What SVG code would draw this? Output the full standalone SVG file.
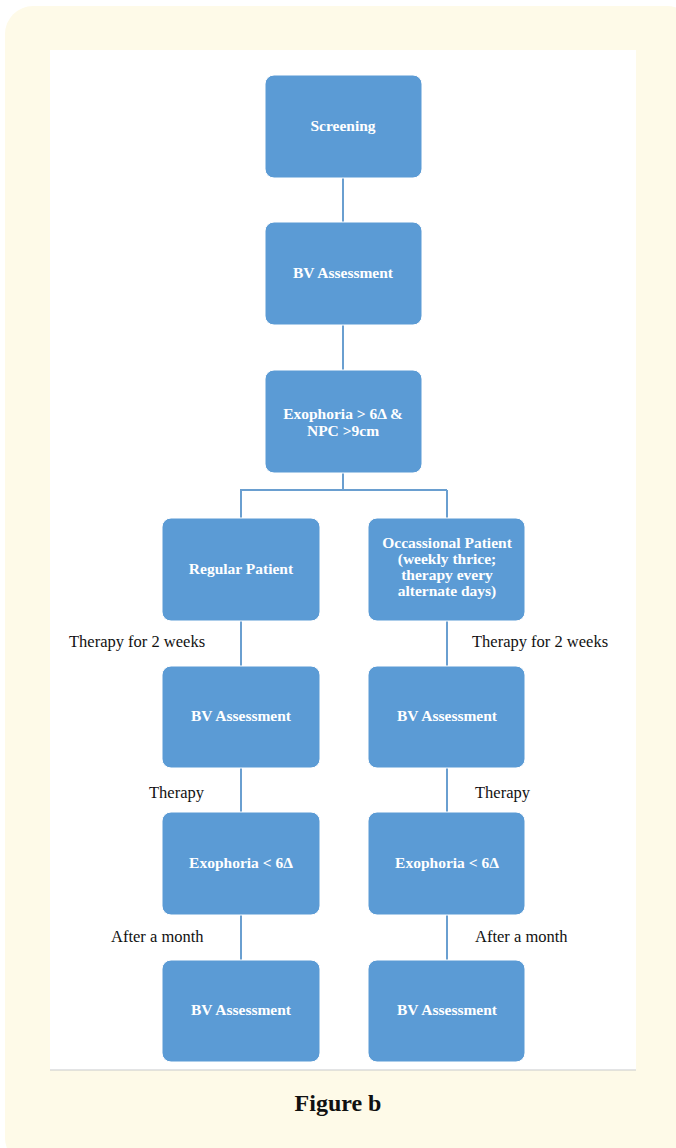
<svg xmlns="http://www.w3.org/2000/svg" width="676" height="1148" viewBox="0 0 676 1148">
<style>
.box{fill:#5B9BD5;stroke:#ffffff;stroke-width:1}
.bt{font-family:"Liberation Serif",serif;font-size:15.5px;font-weight:bold;fill:#ffffff;text-anchor:middle}
.lb{font-family:"Liberation Serif",serif;font-size:16.5px;fill:#111111}
.cn{stroke:#6A9FD0;stroke-width:2;fill:none}
</style>
<rect x="5" y="6" width="690" height="1160" rx="28" fill="#FEFAE8"/>
<rect x="50" y="50" width="586" height="1020" fill="#ffffff"/>
<line x1="50" y1="1070" x2="636" y2="1070" stroke="#C8CACC" stroke-width="1.2"/>
<g id="connectors">
<path class="cn" d="M343 178V222M343 325V370M343 473V490M240 490H447M241 490V518M447 490V518M241 621V666M447 621V666M241 768V812M447 768V812M241 915V960M447 915V960"/>
</g>
<g id="n1"><rect class="box" x="265" y="75" width="157" height="103" rx="9"/><text class="bt" x="343" y="131">Screening</text></g>
<g id="n2"><rect class="box" x="265" y="222" width="157" height="103" rx="9"/><text class="bt" x="343" y="278">BV Assessment</text></g>
<g id="n3"><rect class="box" x="265" y="370" width="157" height="103" rx="9"/><text class="bt" x="343" y="419">Exophoria &gt; 6Δ &amp;</text><text class="bt" x="343" y="436">NPC &gt;9cm</text></g>
<g id="n4"><rect class="box" x="162" y="518" width="158" height="103" rx="9"/><text class="bt" x="241" y="574">Regular Patient</text></g>
<g id="n5"><rect class="box" x="368" y="518" width="157" height="103" rx="9"/><text class="bt" x="447" y="548">Occassional Patient</text><text class="bt" x="447" y="564">(weekly thrice;</text><text class="bt" x="447" y="580">therapy every</text><text class="bt" x="447" y="596">alternate days)</text></g>
<g id="n6"><rect class="box" x="162" y="666" width="158" height="102" rx="9"/><text class="bt" x="241" y="721">BV Assessment</text></g>
<g id="n7"><rect class="box" x="368" y="666" width="157" height="102" rx="9"/><text class="bt" x="447" y="721">BV Assessment</text></g>
<g id="n8"><rect class="box" x="162" y="812" width="158" height="103" rx="9"/><text class="bt" x="241" y="868">Exophoria &lt; 6Δ</text></g>
<g id="n9"><rect class="box" x="368" y="812" width="157" height="103" rx="9"/><text class="bt" x="447" y="868">Exophoria &lt; 6Δ</text></g>
<g id="n10"><rect class="box" x="162" y="960" width="158" height="102" rx="9"/><text class="bt" x="241" y="1015">BV Assessment</text></g>
<g id="n11"><rect class="box" x="368" y="960" width="157" height="102" rx="9"/><text class="bt" x="447" y="1015">BV Assessment</text></g>
<g id="labels">
<text class="lb" x="69" y="647">Therapy for 2 weeks</text>
<text class="lb" x="472" y="647">Therapy for 2 weeks</text>
<text class="lb" x="149" y="798">Therapy</text>
<text class="lb" x="475" y="798">Therapy</text>
<text class="lb" x="111" y="942">After a month</text>
<text class="lb" x="475" y="942">After a month</text>
</g>
<text x="338" y="1111" font-family="Liberation Serif,serif" font-size="24" font-weight="bold" text-anchor="middle" fill="#111">Figure b</text>
</svg>
